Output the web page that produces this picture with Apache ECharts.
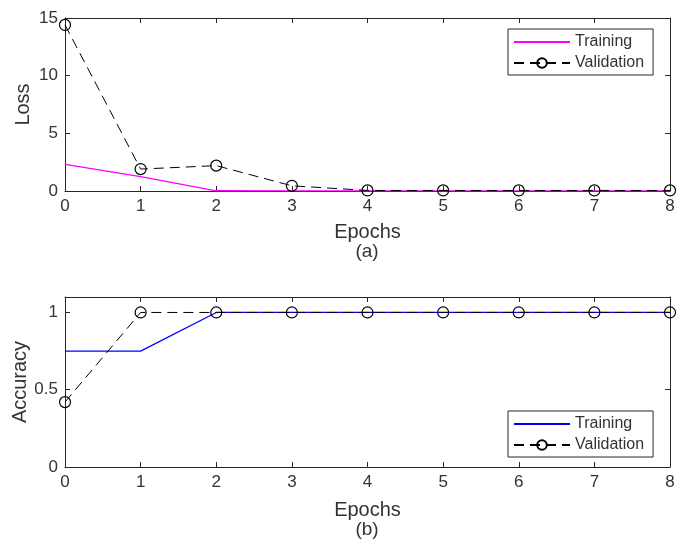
<!DOCTYPE html>
<html><head><meta charset="utf-8">
<script src="https://cdn.jsdelivr.net/npm/echarts@6/dist/echarts.min.js"></script>
<style>html,body{margin:0;padding:0;background:#fff}#c{width:687px;height:545px}</style>
</head><body><div id="c"></div>
<script>
const epochs = [0, 1, 2, 3, 4, 5, 6, 7, 8];
const trainLoss = [2.3, 1.25, 0.02, 0.01, 0.01, 0.01, 0.01, 0.01, 0.01];
const valLoss = [14.4, 1.9, 2.2, 0.45, 0.05, 0.05, 0.05, 0.05, 0.05];
const trainAcc = [0.75, 0.75, 1, 1, 1, 1, 1, 1, 1];
const valAcc = [0.42, 1, 1, 1, 1, 1, 1, 1, 1];
const lossTicks = [0, 5, 10, 15];
const accTicks = [0, 0.5, 1];

const pairs = (ys) => epochs.map((x, i) => [x, ys[i]]);
const FONT = '"Liberation Sans", Arial, sans-serif';
const TXT = '#333';
const AX = '#262626';

function xAx(gi, pos, labels, name, gap) {
  return {
    type: 'value', gridIndex: gi, position: pos, min: 0, max: 8, interval: 1,
    axisLine: { show: true, onZero: false, lineStyle: { color: AX, width: 1 } },
    axisTick: { show: true, inside: true, length: 5, lineStyle: { color: AX } },
    axisLabel: { show: labels, color: TXT, fontSize: 17, fontFamily: FONT, margin: 7 },
    splitLine: { show: false },
    name: name || '', nameLocation: 'middle', nameGap: gap || 30, nameMoveOverlap: false,
    nameTextStyle: { color: TXT, fontSize: 20, fontFamily: FONT }
  };
}
function yAx(gi, pos, labels, min, max, interval, ticks, name, gap) {
  return {
    type: 'value', gridIndex: gi, position: pos, min: min, max: max, interval: interval,
    axisLine: { show: true, onZero: false, lineStyle: { color: AX, width: 1 } },
    axisTick: { show: true, inside: true, length: 5, lineStyle: { color: AX } },
    axisLabel: { show: labels, color: TXT, fontSize: 17, fontFamily: FONT, margin: 7,
      formatter: (v) => ticks.some(t => Math.abs(t - v) < 1e-9) ? String(v) : '' },
    splitLine: { show: false },
    name: name || '', nameLocation: 'middle', nameGap: gap || 32, nameRotate: 90, nameMoveOverlap: false,
    nameTextStyle: { color: TXT, fontSize: 20, fontFamily: FONT }
  };
}
const valStyle = {
  type: 'line', symbol: 'circle', symbolSize: 11, showSymbol: true,
  lineStyle: { color: '#000', width: 1, type: [10, 6] },
  itemStyle: { color: 'rgba(255,255,255,0)', borderColor: '#000', borderWidth: 1.2 },
  emphasis: { disabled: true }, z: 3
};
function legend(names, top) {
  return {
    data: [{ name: names[0], itemStyle: { opacity: 0 } }, { name: names[1] }],
    orient: 'vertical', left: 508, top: top,
    borderColor: AX, borderWidth: 1, backgroundColor: '#fff', padding: [5, 9, 4, 5], itemGap: 5,
    itemWidth: 56, itemHeight: 12,
    textStyle: { color: TXT, fontSize: 16, fontFamily: FONT, padding: [0, 0, 0, 0] },
    selectedMode: false, formatter: (n) => n.trim()
  };
}

const chart = echarts.init(document.getElementById('c'), null, { renderer: 'canvas' });
chart.setOption({
  animation: false,
  backgroundColor: '#fff',
  textStyle: { fontFamily: FONT },
  graphic: [
    { type: 'text', x: 367, y: 252, style: { text: '(a)', fill: TXT, font: '19px ' + FONT, textAlign: 'center', textVerticalAlign: 'middle' } },
    { type: 'text', x: 367, y: 530, style: { text: '(b)', fill: TXT, font: '19px ' + FONT, textAlign: 'center', textVerticalAlign: 'middle' } }
  ],
  grid: [
    { left: 65, top: 18, width: 605, height: 173, containLabel: false, outerBoundsMode: 'none' },
    { left: 65, top: 297, width: 605, height: 170, containLabel: false, outerBoundsMode: 'none' }
  ],
  legend: [legend(['Training', 'Validation'], 29), legend(['Training ', 'Validation '], 411)],
  xAxis: [
    xAx(0, 'bottom', true, 'Epochs', 31), xAx(0, 'top', false),
    xAx(1, 'bottom', true, 'Epochs', 33), xAx(1, 'top', false)
  ],
  yAxis: [
    yAx(0, 'left', true, 0, 15, 5, lossTicks, 'Loss', 32), yAx(0, 'right', false, 0, 15, 5, lossTicks),
    yAx(1, 'left', true, 0, 1.1, 0.5, accTicks, 'Accuracy', 35), yAx(1, 'right', false, 0, 1.1, 0.5, accTicks)
  ],
  series: [
    { name: 'Training', type: 'line', xAxisIndex: 0, yAxisIndex: 0, data: pairs(trainLoss),
      showSymbol: false, symbol: 'none', lineStyle: { color: '#ff00ff', width: 1.3 }, itemStyle: { color: '#ff00ff' }, z: 2 },
    Object.assign({}, valStyle, { name: 'Validation', xAxisIndex: 0, yAxisIndex: 0, data: pairs(valLoss) }),
    { name: 'Training ', type: 'line', xAxisIndex: 2, yAxisIndex: 2, data: pairs(trainAcc),
      showSymbol: false, symbol: 'none', lineStyle: { color: '#0000ff', width: 1.3 }, itemStyle: { color: '#0000ff' }, z: 2 },
    Object.assign({}, valStyle, { name: 'Validation ', xAxisIndex: 2, yAxisIndex: 2, data: pairs(valAcc) })
  ]
});
</script></body></html>
